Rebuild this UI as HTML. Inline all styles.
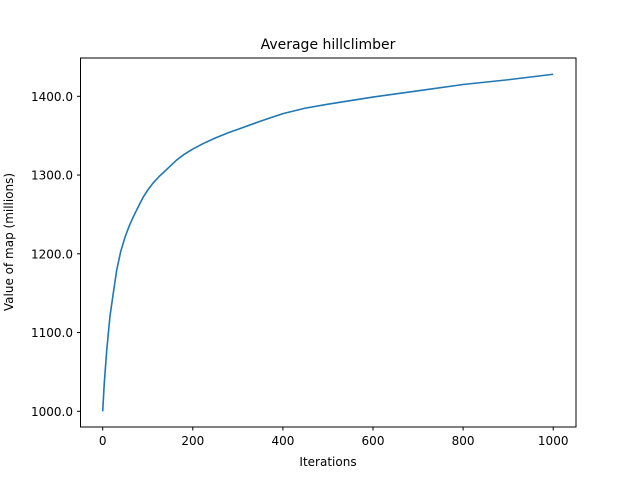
<!DOCTYPE html>
<html><head><meta charset="utf-8"><style>
body{margin:0;background:#fff}
svg{display:block;font-family:"DejaVu Sans","Liberation Sans",sans-serif}
</style></head><body>
<svg id="chart" width="640" height="480">
<rect width="640" height="480" fill="#fff"/>
<text x="328" y="49" text-anchor="middle" font-size="14">Average hillclimber</text>
<text x="328" y="466" text-anchor="middle" font-size="12">Iterations</text>
<text transform="translate(13,242) rotate(-90)" text-anchor="middle" font-size="12">Value of map (millions)</text>
<g id="ticks"></g>
<path id="line" fill="none" stroke="#1f77b4" stroke-width="1.6" stroke-linejoin="round"/>
<rect x="80.5" y="58" width="495.5" height="369" fill="none" stroke="#000" stroke-width="1"/>
</svg>
<script>
const iterations=[0,3.5,9,16,24,31,40,50,60,68,80,90,100,112,125,140,164,180,200,223,250,280,300,348,400,450,500,600,700,800,900,1000];
const values=[1000,1036,1078,1120,1152,1179,1203,1222,1237,1247,1261,1272,1281,1290,1298,1306,1319,1326,1333,1340,1347,1354,1358,1368,1378,1385,1390,1399,1407,1415,1421,1428];
const xTicks=[0,200,400,600,800,1000];
const yTicks=[1000,1100,1200,1300,1400];
const yTickLabels=["1000.0","1100.0","1200.0","1300.0","1400.0"];
function sx(v){return 102.7+v*0.4505;}
function sy(v){return 411.3-(v-1000)*0.7875;}
const ns="http://www.w3.org/2000/svg";
const g=document.getElementById('ticks');
xTicks.forEach(t=>{
 const l=document.createElementNS(ns,'line');
 l.setAttribute('x1',sx(t));l.setAttribute('x2',sx(t));l.setAttribute('y1',427);l.setAttribute('y2',430.5);l.setAttribute('stroke','#000');
 
 
 g.appendChild(l);
 const tx=document.createElementNS(ns,'text');
 tx.setAttribute('x',sx(t));tx.setAttribute('y',445);tx.setAttribute('text-anchor','middle');tx.setAttribute('font-size','12');
 tx.textContent=t;
 
 
 g.appendChild(tx);
});
yTicks.forEach((t,i)=>{
 const l=document.createElementNS(ns,'line');
 l.setAttribute('x1',77);l.setAttribute('x2',80.5);l.setAttribute('y1',sy(t));l.setAttribute('y2',sy(t));l.setAttribute('stroke','#000');
 
 
 g.appendChild(l);
 const tx=document.createElementNS(ns,'text');
 tx.setAttribute('x',73);tx.setAttribute('y',sy(t)+4.5);tx.setAttribute('text-anchor','end');tx.setAttribute('font-size','12');
 tx.textContent=yTickLabels[i];
 
 
 g.appendChild(tx);
});
document.getElementById('line').setAttribute('d',iterations.map((x,i)=>(i?'L':'M')+sx(x).toFixed(2)+' '+sy(values[i]).toFixed(2)).join(' '));
</script>
</body></html>
